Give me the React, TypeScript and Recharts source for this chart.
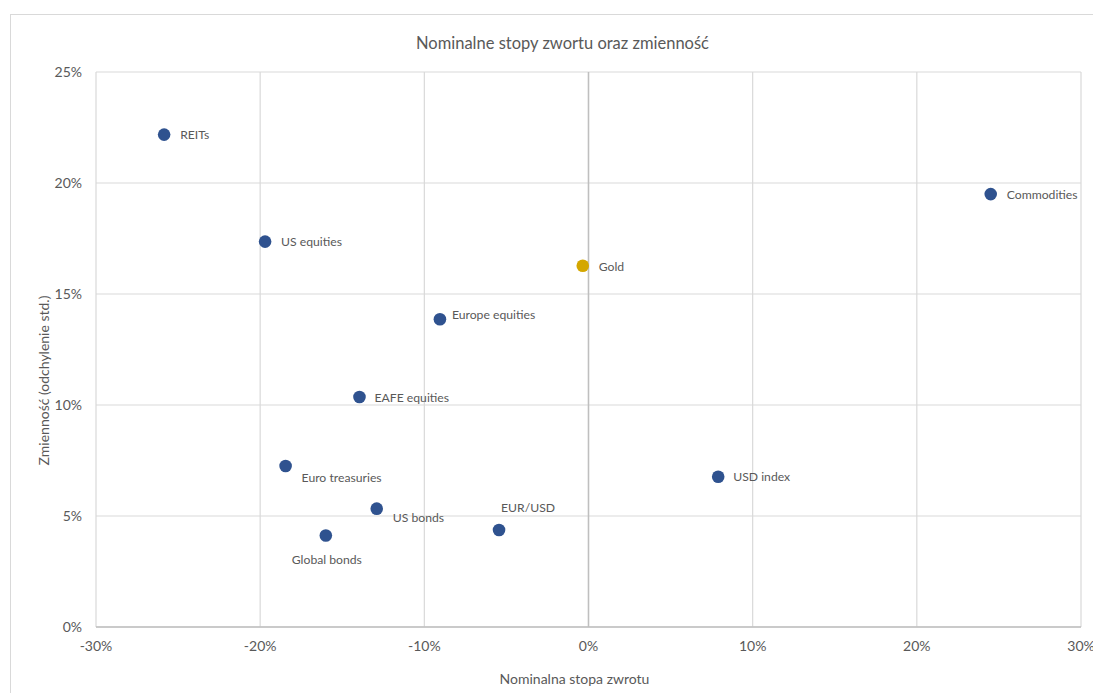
import React from 'react';
import { ScatterChart, Scatter, XAxis, YAxis, CartesianGrid, ReferenceLine, Label } from 'recharts';

const assetNames = ['REITs', 'US equities', 'Europe equities', 'EAFE equities', 'Euro treasuries', 'US bonds', 'Global bonds', 'EUR/USD', 'USD index', 'Commodities'];
const assetReturns = [-25.85, -19.7, -9.05, -13.95, -18.45, -12.9, -16.0, -5.45, 7.9, 24.5];
const assetVolatility = [22.18, 17.36, 13.86, 10.36, 7.25, 5.33, 4.12, 4.37, 6.77, 19.5];

const goldNames = ['Gold'];
const goldReturns = [-0.35];
const goldVolatility = [16.27];

const xTicks = [-30, -20, -10, 0, 10, 20, 30];
const yTicks = [0, 5, 10, 15, 20, 25];

const chartTitle = 'Nominalne stopy zwortu oraz zmienność';
const xTitle = 'Nominalna stopa zwrotu';
const yTitle = 'Zmienność (odchylenie std.)';

// label placement relative to the marker (style, not data)
const labelPlacement: Record<string, { dx: number; dy: number; anchor: string }> = {
  'REITs': { dx: 16, dy: 0, anchor: 'start' },
  'US equities': { dx: 16, dy: 0, anchor: 'start' },
  'Europe equities': { dx: 12, dy: -5, anchor: 'start' },
  'EAFE equities': { dx: 15, dy: 0, anchor: 'start' },
  'Euro treasuries': { dx: 16, dy: 11, anchor: 'start' },
  'US bonds': { dx: 16, dy: 9, anchor: 'start' },
  'Global bonds': { dx: 1, dy: 24, anchor: 'middle' },
  'EUR/USD': { dx: 2, dy: -22, anchor: 'start' },
  'USD index': { dx: 15, dy: 0, anchor: 'start' },
  'Commodities': { dx: 16, dy: 0, anchor: 'start' },
  'Gold': { dx: 16, dy: 1, anchor: 'start' },
};

const assetData = assetNames.map((name, i) => ({ name, x: assetReturns[i], y: assetVolatility[i] }));
const goldData = goldNames.map((name, i) => ({ name, x: goldReturns[i], y: goldVolatility[i] }));

const FONT = 'Lato, "Open Sans", sans-serif';
const TEXT = '#595959';

const makeShape = (color: string) => (props: any) => {
  const { cx, cy, payload } = props;
  const p = labelPlacement[payload.name] || { dx: 14, dy: 0, anchor: 'start' };
  return (
    <g>
      <circle cx={cx} cy={cy} r={6.3} fill={color} />
      <text
        x={cx + p.dx}
        y={cy + p.dy}
        textAnchor={p.anchor as any}
        dominantBaseline="central"
        fontSize={12.2}
        fontFamily={FONT}
        fill={TEXT}
      >
        {payload.name}
      </text>
    </g>
  );
};

const YTitle = (props: any) => {
  const vb = props.viewBox || { x: 0, y: 0, width: 0, height: 0 };
  const x = vb.x + 35;
  const y = vb.y + vb.height / 2 + 31;
  return (
    <text
      x={x}
      y={y}
      transform={`rotate(-90 ${x} ${y})`}
      textAnchor="middle"
      dominantBaseline="central"
      fontSize={14}
      fontFamily={FONT}
      fill={TEXT}
    >
      {yTitle}
    </text>
  );
};

const XTitle = (props: any) => {
  const vb = props.viewBox || { x: 0, y: 0, width: 0, height: 0 };
  const x = vb.x + vb.width / 2 - 14;
  const y = vb.y + vb.height + 11;
  return (
    <text x={x} y={y} textAnchor="middle" dominantBaseline="central" fontSize={14} fontFamily={FONT} fill={TEXT}>
      {xTitle}
    </text>
  );
};

export default function App() {
  return (
    <div style={{ position: 'relative', width: 1093, height: 685, overflow: 'hidden', background: '#fff' }}>
      <div
        style={{
          position: 'absolute',
          left: 2,
          top: 6,
          width: 1120,
          height: 720,
          border: '1px solid #D9D9D9',
          boxSizing: 'border-box',
        }}
      />
      <div
        style={{
          position: 'absolute',
          left: 254.5,
          width: 600,
          top: 25,
          textAlign: 'center',
          fontFamily: FONT,
          fontSize: 16.5,
          lineHeight: '20px',
          color: TEXT,
        }}
      >
        {chartTitle}
      </div>
      <div style={{ position: 'absolute', left: 0, top: 0 }}>
        <ScatterChart width={1093} height={685} margin={{ top: 64, right: 20, bottom: 26, left: 0 }}>
          <CartesianGrid stroke="#D9D9D9" strokeWidth={1.2} />
          <XAxis
            type="number"
            dataKey="x"
            domain={[-30, 30]}
            ticks={xTicks}
            tickFormatter={(v: number) => `${v}%`}
            height={40}
            tickLine={false}
            tickMargin={8}
            axisLine={{ stroke: '#BFBFBF', strokeWidth: 1.5 }}
            tick={{ fill: TEXT, fontSize: 14, fontFamily: FONT }}
          >
            <Label content={XTitle} />
          </XAxis>
          <YAxis
            type="number"
            dataKey="y"
            domain={[0, 25]}
            ticks={yTicks}
            tickFormatter={(v: number) => `${v}%`}
            width={88}
            tickLine={false}
            tickMargin={8}
            axisLine={false}
            tick={{ fill: TEXT, fontSize: 14, fontFamily: FONT }}
          >
            <Label content={YTitle} />
          </YAxis>
          <ReferenceLine x={0} stroke="#BFBFBF" strokeWidth={1.5} />
          <Scatter data={assetData} fill="#2F528F" shape={makeShape('#2F528F')} isAnimationActive={false} />
          <Scatter data={goldData} fill="#D4A700" shape={makeShape('#D4A700')} isAnimationActive={false} />
        </ScatterChart>
      </div>
    </div>
  );
}
